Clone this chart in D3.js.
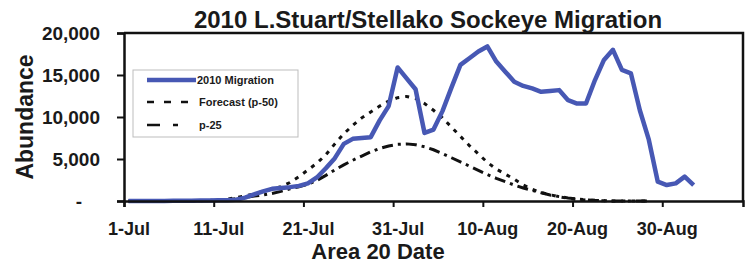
<!DOCTYPE html>
<html>
<head>
<meta charset="utf-8">
<script src="https://cdn.jsdelivr.net/npm/d3@7"></script>
<style>
  body { margin: 0; background: #fff; }
  text { font-family: Arial, "Liberation Sans", sans-serif; font-weight: bold; fill: #1a1a1a; }
</style>
</head>
<body>
<div id="chart"></div>
<script>
// daily values starting 1-Jul-2010
var startDate = "2010-07-01";
var migration = [0, 0, 0, 10, 10, 20, 30, 40, 50, 60, 80, 100, 150, 400, 800, 1150,
  1450, 1550, 1650, 1800, 2100, 2800, 3900, 5100, 6800, 7400, 7500, 7600, 9600, 11300,
  15900, 14600, 13300, 8100, 8500, 10700, 13500, 16200, 17000, 17800, 18400, 16600,
  15400, 14200, 13700, 13400, 13000, 13100, 13200, 12000, 11600, 11600, 14400, 16800,
  18000, 15600, 15200, 10800, 7300, 2300, 1900, 2100, 2900, 1900];
var forecast50 = [0, 0, 0, 0, 0, 0, 0, 10, 30, 60, 120, 200, 400, 600, 850, 1150,
  1400, 1700, 2200, 2900, 3700, 4500, 5500, 6800, 8000, 9000, 9900, 10600, 11300, 11900,
  12300, 12450, 12200, 11600, 10800, 9900, 8800, 7700, 6600, 5600, 4600, 3800, 3200,
  2600, 1900, 1400, 1000, 750, 500, 320, 200, 110, 60, 20, 0, 0, 0, 0, 0];
var forecast25 = [0, 0, 0, 0, 0, 0, 0, 10, 20, 50, 90, 150, 280, 420, 580, 720,
  900, 1150, 1450, 1700, 2000, 2450, 3050, 3700, 4300, 4850, 5350, 5850, 6250, 6550,
  6750, 6800, 6700, 6450, 6100, 5650, 5150, 4650, 4150, 3650, 3150, 2700, 2300,
  1900, 1550, 1250, 980, 720, 520, 370, 250, 150, 75, 25, 0, 0, 0, 0, 0];
var yTicks = [0, 5000, 10000, 15000, 20000];
var xTickDates = ["2010-07-01", "2010-07-11", "2010-07-21", "2010-07-31", "2010-08-10", "2010-08-20", "2010-08-30"];
var endDate = "2010-09-08";

var width = 750, height = 264;
var margin = {top: 33, right: 7, bottom: 63, left: 124};

var svg = d3.select("#chart").append("svg")
  .attr("width", width)
  .attr("height", height);

var parse = d3.utcParse("%Y-%m-%d");
var start = parse(startDate);

var x = d3.scaleUtc()
  .domain([start, parse(endDate)])
  .range([margin.left, width - margin.right]);
var y = d3.scaleLinear()
  .domain([0, 20000])
  .range([height - margin.bottom, margin.top]);

// points sit in the middle of each day
function toPoints(arr) {
  return arr.map(function(v, i) {
    return {date: d3.utcHour.offset(d3.utcDay.offset(start, i), 12), value: v};
  });
}

var line = d3.line()
  .x(function(d) { return x(d.date); })
  .y(function(d) { return y(d.value); });

var halfDay = x(d3.utcHour.offset(start, 12)) - x(start);

// frame (top and right)
svg.append("path")
  .attr("d", "M" + margin.left + "," + margin.top + "H" + (width - margin.right) + "V" + (height - margin.bottom))
  .attr("fill", "none")
  .attr("stroke", "#111")
  .attr("stroke-width", 2.5);

// forecast lines
svg.append("path")
  .datum(toPoints(forecast25))
  .attr("d", line)
  .attr("fill", "none")
  .attr("stroke", "#111")
  .attr("stroke-width", 3)
  .attr("stroke-dasharray", "11,5,3,5");

svg.append("path")
  .datum(toPoints(forecast50))
  .attr("d", line)
  .attr("fill", "none")
  .attr("stroke", "#111")
  .attr("stroke-width", 3)
  .attr("stroke-dasharray", "4,6");

svg.append("path")
  .datum(toPoints(migration))
  .attr("d", line)
  .attr("fill", "none")
  .attr("stroke", "#4758b4")
  .attr("stroke-width", 4.5)
  .attr("stroke-linejoin", "round");

// axes
var xAxis = svg.append("g")
  .attr("transform", "translate(0," + (height - margin.bottom) + ")")
  .call(d3.axisBottom(x)
    .tickValues(xTickDates.map(parse))
    .tickFormat(d3.utcFormat("%-d-%b"))
    .tickSize(6)
    .tickPadding(15));
xAxis.select(".domain").attr("stroke", "#111").attr("stroke-width", 2.5);
xAxis.selectAll(".tick line").attr("stroke", "#111").attr("stroke-width", 2);
xAxis.selectAll(".tick text")
  .attr("x", halfDay)
  .style("font-size", "18px");

var yAxis = svg.append("g")
  .attr("transform", "translate(" + margin.left + ",0)")
  .call(d3.axisLeft(y)
    .tickValues(yTicks)
    .tickFormat(function(d) { return d === 0 ? "-" : d3.format(",")(d); })
    .tickSize(7)
    .tickPadding(17));
yAxis.select(".domain").attr("stroke", "#111").attr("stroke-width", 2.5);
yAxis.selectAll(".tick line").attr("stroke", "#111").attr("stroke-width", 2);
yAxis.selectAll(".tick text")
  .style("font-size", "19px")
  .attr("dx", function(d) { return d === 0 ? -18 : 0; });

// titles
svg.append("text")
  .attr("x", 428)
  .attr("y", 28)
  .attr("text-anchor", "middle")
  .style("font-size", "24px")
  .text("2010 L.Stuart/Stellako Sockeye Migration");

svg.append("text")
  .attr("x", 378)
  .attr("y", 259)
  .attr("text-anchor", "middle")
  .style("font-size", "22px")
  .text("Area 20 Date");

svg.append("text")
  .attr("transform", "translate(33," + ((margin.top + height - margin.bottom) / 2) + ") rotate(-90)")
  .attr("text-anchor", "middle")
  .style("font-size", "23px")
  .text("Abundance");

// legend
var legend = svg.append("g");
legend.append("rect")
  .attr("x", 133)
  .attr("y", 70)
  .attr("width", 165)
  .attr("height", 67)
  .attr("fill", "#fff")
  .attr("stroke", "#bdbdbd")
  .attr("stroke-width", 1);

legend.append("line")
  .attr("x1", 147).attr("x2", 196).attr("y1", 80).attr("y2", 80)
  .attr("stroke", "#4758b4").attr("stroke-width", 4.5);
legend.append("text")
  .attr("x", 197).attr("y", 84)
  .style("font-size", "11px")
  .text("2010 Migration");

legend.append("line")
  .attr("x1", 147).attr("x2", 192).attr("y1", 102).attr("y2", 102)
  .attr("stroke", "#111").attr("stroke-width", 2.5)
  .attr("stroke-dasharray", "7,10");
legend.append("text")
  .attr("x", 199).attr("y", 106)
  .style("font-size", "11px")
  .text("Forecast (p-50)");

legend.append("line")
  .attr("x1", 147).attr("x2", 180).attr("y1", 125).attr("y2", 125)
  .attr("stroke", "#111").attr("stroke-width", 2.5)
  .attr("stroke-dasharray", "13,13,5,20");
legend.append("text")
  .attr("x", 199).attr("y", 129)
  .style("font-size", "11px")
  .text("p-25");
</script>
</body>
</html>
